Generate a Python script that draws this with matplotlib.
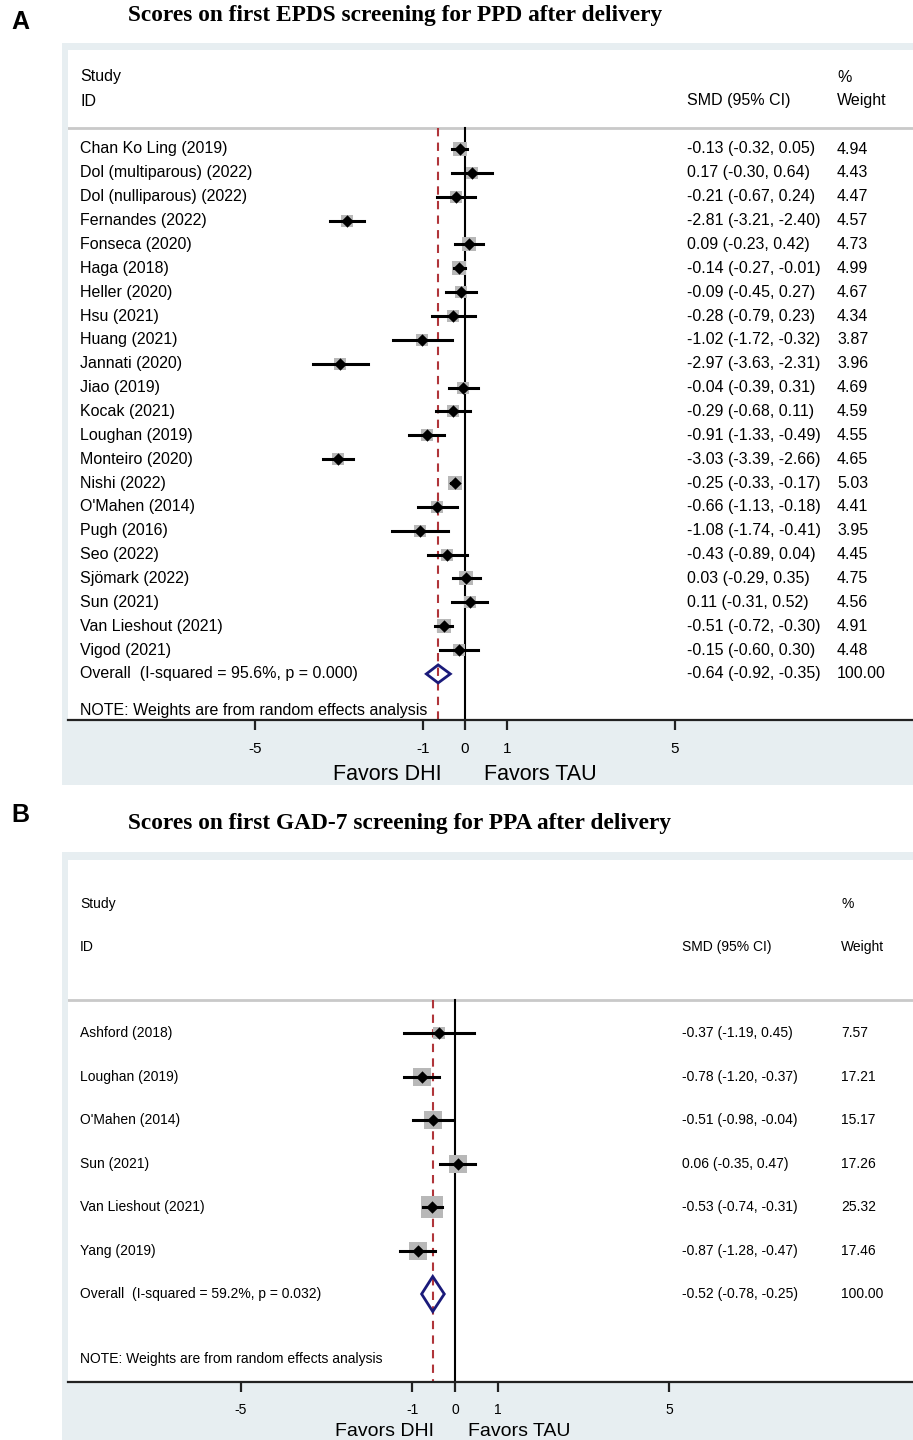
import matplotlib.pyplot as plt
import numpy as np
from matplotlib.patches import Polygon

plt.rcParams["font.family"] = ["Liberation Sans", "DejaVu Sans"]

W, H = 913, 1440

# ---- panel A data (EPDS) ----
studies_a = ["Chan Ko Ling (2019)", "Dol (multiparous) (2022)", "Dol (nulliparous) (2022)",
             "Fernandes (2022)", "Fonseca (2020)", "Haga (2018)", "Heller (2020)", "Hsu (2021)",
             "Huang (2021)", "Jannati (2020)", "Jiao (2019)", "Kocak (2021)", "Loughan (2019)",
             "Monteiro (2020)", "Nishi (2022)", "O'Mahen (2014)", "Pugh (2016)", "Seo (2022)",
             "Sjömark (2022)", "Sun (2021)", "Van Lieshout (2021)", "Vigod (2021)"]
smd_a = [-0.13, 0.17, -0.21, -2.81, 0.09, -0.14, -0.09, -0.28, -1.02, -2.97, -0.04, -0.29,
         -0.91, -3.03, -0.25, -0.66, -1.08, -0.43, 0.03, 0.11, -0.51, -0.15]
lo_a = [-0.32, -0.30, -0.67, -3.21, -0.23, -0.27, -0.45, -0.79, -1.72, -3.63, -0.39, -0.68,
        -1.33, -3.39, -0.33, -1.13, -1.74, -0.89, -0.29, -0.31, -0.72, -0.60]
hi_a = [0.05, 0.64, 0.24, -2.40, 0.42, -0.01, 0.27, 0.23, -0.32, -2.31, 0.31, 0.11,
        -0.49, -2.66, -0.17, -0.18, -0.41, 0.04, 0.35, 0.52, -0.30, 0.30]
weight_a = [4.94, 4.43, 4.47, 4.57, 4.73, 4.99, 4.67, 4.34, 3.87, 3.96, 4.69, 4.59,
            4.55, 4.65, 5.03, 4.41, 3.95, 4.45, 4.75, 4.56, 4.91, 4.48]
overall_a = (-0.64, -0.92, -0.35)
overall_label_a = "Overall  (I-squared = 95.6%, p = 0.000)"

# ---- panel B data (GAD-7) ----
studies_b = ["Ashford (2018)", "Loughan (2019)", "O'Mahen (2014)", "Sun (2021)",
             "Van Lieshout (2021)", "Yang (2019)"]
smd_b = [-0.37, -0.78, -0.51, 0.06, -0.53, -0.87]
lo_b = [-1.19, -1.20, -0.98, -0.35, -0.74, -1.28]
hi_b = [0.45, -0.37, -0.04, 0.47, -0.31, -0.47]
weight_b = [7.57, 17.21, 15.17, 17.26, 25.32, 17.46]
overall_b = (-0.52, -0.78, -0.25)
overall_label_b = "Overall  (I-squared = 59.2%, p = 0.032)"

ticks = [-5, -1, 0, 1, 5]

grey_bg = "#e7eef1"
navy = "#1a1a7a"
red = "#b0353a"


def fig_rect(x0, y0, x1, y1):
    # pixel box -> figure fraction [left, bottom, width, height]
    return [x0 / W, 1 - y1 / H, (x1 - x0) / W, (y1 - y0) / H]


def forest(fig, box, grey_box, zero_px, unit_px, row0_px, row_step, studies, smd, lo, hi,
           weight, overall, overall_label, fs, box_k, diamond_h, header_px, sep_px, note_px,
           col_smd_px, col_w_px, tick_fs, tick_len, tick_pad, fav_y, fav_fs, fav_x):
    x0, y0, x1, y1 = box
    # grey background panel behind the axes
    gx0, gy0, gx1, gy1 = grey_box
    bg = fig.add_axes(fig_rect(gx0, gy0, gx1, gy1), zorder=-1)
    bg.set_facecolor(grey_bg)
    bg.set_xticks([])
    bg.set_yticks([])
    for s in bg.spines.values():
        s.set_visible(False)

    ax = fig.add_axes(fig_rect(x0, y0, x1, y1))
    ax.set_facecolor("white")
    to_x = lambda px: (px - zero_px) / unit_px
    to_y = lambda py: (py - row0_px) / row_step
    ax.set_xlim(to_x(x0), to_x(x1))
    ax.set_ylim(to_y(y1), to_y(y0))
    for s in ["top", "left", "right"]:
        ax.spines[s].set_visible(False)
    ax.spines["bottom"].set_linewidth(1.6)
    ax.spines["bottom"].set_color("#222222")
    ax.set_yticks([])
    ax.set_xticks(ticks)
    ax.set_xticklabels([str(t) for t in ticks], fontsize=tick_fs)
    ax.tick_params(axis="x", direction="out", length=tick_len, width=1.6, pad=tick_pad,
                   color="#222222")

    n = len(studies)
    rows = np.arange(n)
    sep_y = to_y(sep_px)
    ax.axhline(sep_y, color="#c9c9c9", lw=2)
    ax.plot([0, 0], [sep_y, to_y(y1)], color="black", lw=1.5, zorder=2)
    ax.plot([overall[0], overall[0]], [sep_y, to_y(y1)], color=red, lw=1.5,
            dashes=(4, 3), zorder=2)

    xl = to_x(80)
    xs = to_x(col_smd_px)
    xw = to_x(col_w_px)
    hy1, hy2 = to_y(header_px[0]), to_y(header_px[1])
    ax.text(xl, hy1, "Study", fontsize=fs, va="center")
    ax.text(xl, hy2, "ID", fontsize=fs, va="center")
    ax.text(xs, hy2, "SMD (95% CI)", fontsize=fs, va="center")
    ax.text(xw, hy1, "%", fontsize=fs, va="center")
    ax.text(xw, hy2, "Weight", fontsize=fs, va="center")

    for i in rows:
        ax.plot([lo[i], hi[i]], [i, i], color="black", lw=2.2, zorder=3)
        side = box_k * np.sqrt(weight[i]) * 0.72
        ax.scatter(smd[i], i, marker="s", s=side ** 2, color="#b8b8b8", zorder=2,
                   linewidths=0)
        ax.scatter(smd[i], i, marker="D", s=40, color="black", zorder=4, linewidths=0)
        ax.text(xl, i, studies[i], fontsize=fs, va="center")
        ax.text(xs, i, f"{smd[i]:.2f} ({lo[i]:.2f}, {hi[i]:.2f})", fontsize=fs, va="center")
        ax.text(xw, i, f"{weight[i]:.2f}", fontsize=fs, va="center")

    oy = n
    m, l, h = overall
    dh = diamond_h / row_step / 2
    ax.add_patch(Polygon([[l, oy], [m, oy - dh], [h, oy], [m, oy + dh]], closed=True,
                         fill=False, edgecolor=navy, lw=2, zorder=5))
    ax.text(xl, oy, overall_label, fontsize=fs, va="center")
    ax.text(xs, oy, f"{m:.2f} ({l:.2f}, {h:.2f})", fontsize=fs, va="center")
    ax.text(xw, oy, "100.00", fontsize=fs, va="center")
    ax.text(xl, to_y(note_px), "NOTE: Weights are from random effects analysis",
            fontsize=fs, va="center")

    fig.text(fav_x[0] / W, 1 - fav_y / H, "Favors DHI", fontsize=fav_fs, ha="center",
             va="center")
    fig.text(fav_x[1] / W, 1 - fav_y / H, "Favors TAU", fontsize=fav_fs, ha="center",
             va="center")
    return ax


fig = plt.figure(figsize=(W / 100, H / 100), dpi=100)

# panel A
axA = forest(fig, (68, 50, W, 720), (62, 43, W, 785), 465, 42.0, 149, 23.86, studies_a,
             smd_a, lo_a, hi_a, weight_a, overall_a, overall_label_a, 11.5, 6.0, 18,
             (77, 101), 128, 710, 687, 837, 11, 7, 9, 774, 15.5, (387, 540))

# panel B
axB = forest(fig, (68, 860, W, 1382), (62, 852, W, H), 455, 42.8, 1033, 43.5, studies_b,
             smd_b, lo_b, hi_b, weight_b, overall_b, overall_label_b, 10, 4.4, 35,
             (904, 947), 1000, 1359, 682, 841, 10, 7, 8, 1432, 14, (384, 519))

# panel letters and titles
fig.text(20 / W, 1 - 22 / H, "A", fontsize=18, fontweight="bold", ha="center", va="center")
fig.text(20 / W, 1 - 815 / H, "B", fontsize=18, fontweight="bold", ha="center", va="center")
fig.text(128 / W, 1 - 15 / H, "Scores on first EPDS screening for PPD after delivery",
         fontsize=16.8, fontweight="bold", family="Liberation Serif", va="center")
fig.text(128 / W, 1 - 823 / H, "Scores on first GAD-7 screening for PPA after delivery",
         fontsize=16.8, fontweight="bold", family="Liberation Serif", va="center")

fig.savefig("out.png", dpi=100, facecolor="white")
